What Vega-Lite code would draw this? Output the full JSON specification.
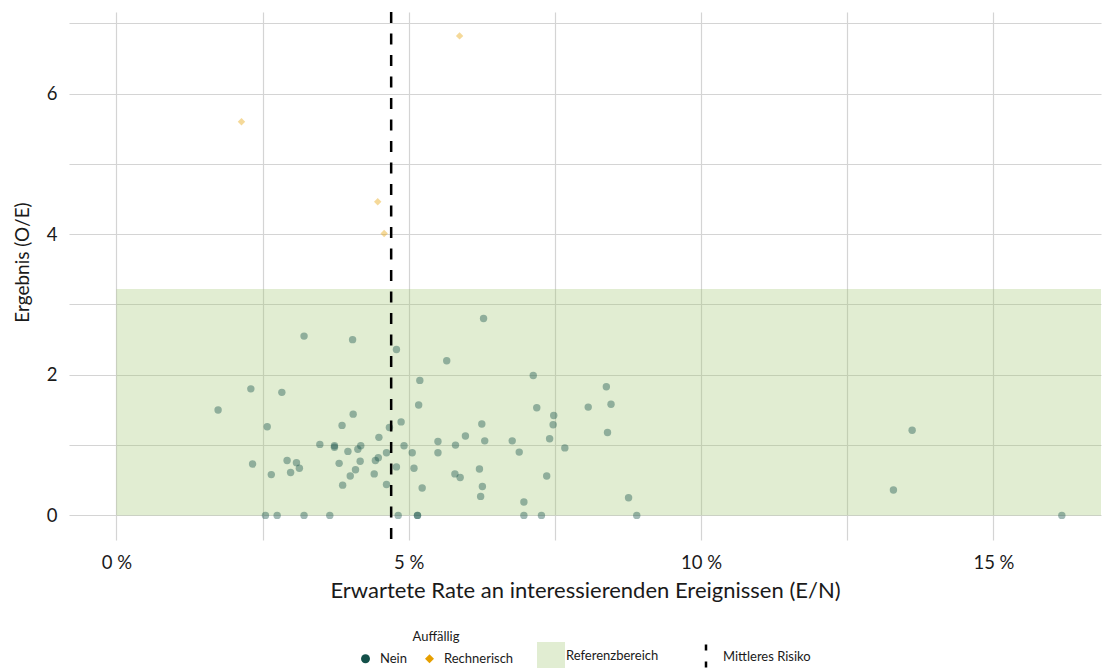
{
  "$schema": "https://vega.github.io/schema/vega-lite/v6.json",
  "width": 1032,
  "height": 528,
  "autosize": {"type": "none"},
  "padding": {"left": 69, "top": 12, "right": 3, "bottom": 128},
  "config": {
    "font": "Lato",
    "view": {"stroke": null},
    "axis": {
      "domain": false,
      "ticks": false,
      "tickSize": 0,
      "gridColor": "#d4d4d4",
      "gridWidth": 1.2,
      "labelFont": "Lato",
      "labelColor": "#1a1a1a",
      "titleColor": "#1a1a1a",
      "titleFont": "Lato",
      "titleFontWeight": "normal"
    },
    "legend": {
      "labelFont": "Lato",
      "titleFont": "Lato",
      "labelFontSize": 13,
      "titleFontSize": 13,
      "titleFontWeight": "normal",
      "labelColor": "#1a1a1a",
      "titleColor": "#1a1a1a"
    }
  },
  "datasets": {
    "punkte": [
      {"rate": 3.21, "oe": 2.55, "auff": "Nein"},
      {"rate": 4.04, "oe": 2.50, "auff": "Nein"},
      {"rate": 4.79, "oe": 2.36, "auff": "Nein"},
      {"rate": 5.65, "oe": 2.20, "auff": "Nein"},
      {"rate": 5.19, "oe": 1.92, "auff": "Nein"},
      {"rate": 2.30, "oe": 1.80, "auff": "Nein"},
      {"rate": 2.83, "oe": 1.75, "auff": "Nein"},
      {"rate": 1.74, "oe": 1.50, "auff": "Nein"},
      {"rate": 5.17, "oe": 1.57, "auff": "Nein"},
      {"rate": 4.05, "oe": 1.44, "auff": "Nein"},
      {"rate": 2.58, "oe": 1.26, "auff": "Nein"},
      {"rate": 3.86, "oe": 1.28, "auff": "Nein"},
      {"rate": 4.87, "oe": 1.33, "auff": "Nein"},
      {"rate": 4.67, "oe": 1.25, "auff": "Nein"},
      {"rate": 4.49, "oe": 1.11, "auff": "Nein"},
      {"rate": 3.48, "oe": 1.01, "auff": "Nein"},
      {"rate": 3.73, "oe": 0.99, "auff": "Nein"},
      {"rate": 3.73, "oe": 0.97, "auff": "Nein"},
      {"rate": 4.18, "oe": 0.99, "auff": "Nein"},
      {"rate": 4.13, "oe": 0.94, "auff": "Nein"},
      {"rate": 3.96, "oe": 0.91, "auff": "Nein"},
      {"rate": 4.92, "oe": 0.99, "auff": "Nein"},
      {"rate": 5.50, "oe": 1.05, "auff": "Nein"},
      {"rate": 5.50, "oe": 0.89, "auff": "Nein"},
      {"rate": 5.06, "oe": 0.89, "auff": "Nein"},
      {"rate": 4.62, "oe": 0.89, "auff": "Nein"},
      {"rate": 4.48, "oe": 0.82, "auff": "Nein"},
      {"rate": 4.43, "oe": 0.78, "auff": "Nein"},
      {"rate": 4.17, "oe": 0.77, "auff": "Nein"},
      {"rate": 3.81, "oe": 0.74, "auff": "Nein"},
      {"rate": 2.92, "oe": 0.78, "auff": "Nein"},
      {"rate": 3.08, "oe": 0.75, "auff": "Nein"},
      {"rate": 3.13, "oe": 0.67, "auff": "Nein"},
      {"rate": 2.98, "oe": 0.61, "auff": "Nein"},
      {"rate": 2.33, "oe": 0.73, "auff": "Nein"},
      {"rate": 2.65, "oe": 0.58, "auff": "Nein"},
      {"rate": 4.79, "oe": 0.69, "auff": "Nein"},
      {"rate": 5.09, "oe": 0.67, "auff": "Nein"},
      {"rate": 4.09, "oe": 0.65, "auff": "Nein"},
      {"rate": 4.00, "oe": 0.56, "auff": "Nein"},
      {"rate": 4.41, "oe": 0.59, "auff": "Nein"},
      {"rate": 3.87, "oe": 0.43, "auff": "Nein"},
      {"rate": 4.62, "oe": 0.44, "auff": "Nein"},
      {"rate": 5.23, "oe": 0.39, "auff": "Nein"},
      {"rate": 2.55, "oe": 0, "auff": "Nein"},
      {"rate": 2.75, "oe": 0, "auff": "Nein"},
      {"rate": 3.21, "oe": 0, "auff": "Nein"},
      {"rate": 3.65, "oe": 0, "auff": "Nein"},
      {"rate": 4.82, "oe": 0, "auff": "Nein"},
      {"rate": 5.15, "oe": 0, "auff": "Nein"},
      {"rate": 5.15, "oe": 0, "auff": "Nein"},
      {"rate": 6.28, "oe": 2.80, "auff": "Nein"},
      {"rate": 7.13, "oe": 1.99, "auff": "Nein"},
      {"rate": 8.38, "oe": 1.83, "auff": "Nein"},
      {"rate": 8.07, "oe": 1.54, "auff": "Nein"},
      {"rate": 8.46, "oe": 1.58, "auff": "Nein"},
      {"rate": 7.19, "oe": 1.53, "auff": "Nein"},
      {"rate": 7.48, "oe": 1.42, "auff": "Nein"},
      {"rate": 7.47, "oe": 1.29, "auff": "Nein"},
      {"rate": 6.25, "oe": 1.30, "auff": "Nein"},
      {"rate": 8.40, "oe": 1.18, "auff": "Nein"},
      {"rate": 5.97, "oe": 1.13, "auff": "Nein"},
      {"rate": 7.41, "oe": 1.09, "auff": "Nein"},
      {"rate": 6.30, "oe": 1.06, "auff": "Nein"},
      {"rate": 6.77, "oe": 1.06, "auff": "Nein"},
      {"rate": 5.80, "oe": 1.00, "auff": "Nein"},
      {"rate": 7.67, "oe": 0.96, "auff": "Nein"},
      {"rate": 6.89, "oe": 0.90, "auff": "Nein"},
      {"rate": 6.21, "oe": 0.66, "auff": "Nein"},
      {"rate": 5.79, "oe": 0.59, "auff": "Nein"},
      {"rate": 5.88, "oe": 0.54, "auff": "Nein"},
      {"rate": 7.36, "oe": 0.56, "auff": "Nein"},
      {"rate": 6.26, "oe": 0.41, "auff": "Nein"},
      {"rate": 6.23, "oe": 0.27, "auff": "Nein"},
      {"rate": 8.76, "oe": 0.25, "auff": "Nein"},
      {"rate": 6.97, "oe": 0.19, "auff": "Nein"},
      {"rate": 6.97, "oe": 0, "auff": "Nein"},
      {"rate": 7.27, "oe": 0, "auff": "Nein"},
      {"rate": 8.90, "oe": 0, "auff": "Nein"},
      {"rate": 13.61, "oe": 1.21, "auff": "Nein"},
      {"rate": 13.29, "oe": 0.36, "auff": "Nein"},
      {"rate": 16.17, "oe": 0, "auff": "Nein"},
      {"rate": 2.14, "oe": 5.60, "auff": "Rechnerisch"},
      {"rate": 4.47, "oe": 4.46, "auff": "Rechnerisch"},
      {"rate": 4.58, "oe": 4.01, "auff": "Rechnerisch"},
      {"rate": 5.87, "oe": 6.82, "auff": "Rechnerisch"}
    ],
    "referenz": [
      {"x0": 0, "x1": 16.84, "y0": 0, "y1": 3.22, "ref": "Referenzbereich"}
    ],
    "mittel": [
      {"rate": 4.70, "risk": "Mittleres Risiko"}
    ]
  },
  "layer": [
    {
      "data": {"name": "referenz"},
      "mark": {"type": "rect", "opacity": 0.3},
      "encoding": {
        "x": {
          "field": "x0", "type": "quantitative",
          "scale": {"domain": [-0.81, 16.84], "nice": false, "zero": false},
          "axis": {
            "values": [0, 2.5, 5, 7.5, 10, 12.5, 15],
            "labelExpr": "datum.value % 5 === 0 ? datum.value + ' %' : ''",
            "labelFontSize": 18.5,
            "labelPadding": 13,
            "title": "Erwartete Rate an interessierenden Ereignissen (E/N)",
            "titleFontSize": 22,
            "titlePadding": 9
          }
        },
        "x2": {"field": "x1"},
        "y": {
          "field": "y0", "type": "quantitative",
          "scale": {"domain": [-0.35, 7.16], "nice": false, "zero": false},
          "axis": {
            "values": [0, 1, 2, 3, 4, 5, 6, 7],
            "labelExpr": "datum.value % 2 === 0 ? datum.value : ''",
            "labelFontSize": 18.5,
            "labelPadding": 12,
            "title": "Ergebnis (O/E)",
            "titleFontSize": 19,
            "titlePadding": 14,
            "titleY": 250
          }
        },
        "y2": {"field": "y1"},
        "fill": {
          "field": "ref", "type": "nominal",
          "scale": {"domain": ["Referenzbereich"], "range": ["#9bc36b"]},
          "legend": {
            "title": null,
            "orient": "none",
            "legendX": 468,
            "legendY": 630,
            "symbolType": "square",
            "symbolSize": 784,
            "symbolOpacity": 0.3,
            "symbolStrokeWidth": 0,
            "labelOffset": 1
          }
        }
      }
    },
    {
      "data": {"name": "punkte"},
      "mark": {"type": "point", "filled": true, "opacity": 0.4, "size": 55, "strokeWidth": 0},
      "encoding": {
        "x": {"field": "rate", "type": "quantitative"},
        "y": {"field": "oe", "type": "quantitative"},
        "color": {
          "field": "auff", "type": "nominal",
          "scale": {"domain": ["Nein", "Rechnerisch"], "range": ["#135049", "#e69f00"]},
          "legend": {
            "title": "Auffällig",
            "orient": "none",
            "direction": "horizontal",
            "legendX": 290,
            "legendY": 619,
            "titleAnchor": "middle",
            "titlePadding": 8,
            "symbolOpacity": 1,
            "symbolSize": 80,
            "labelOffset": 8,
            "columnPadding": 16,
            "encode": {"symbols": {"update": {"opacity": {"value": 1}, "fillOpacity": {"value": 1}}}}
          }
        },
        "shape": {
          "field": "auff", "type": "nominal",
          "scale": {"domain": ["Nein", "Rechnerisch"], "range": ["circle", "diamond"]}
        }
      }
    },
    {
      "data": {"name": "mittel"},
      "mark": {"type": "rule", "strokeDash": [11, 10.5], "strokeWidth": 2.5},
      "encoding": {
        "x": {"field": "rate", "type": "quantitative"},
        "stroke": {
          "field": "risk", "type": "nominal",
          "scale": {"domain": ["Mittleres Risiko"], "range": ["#000000"]},
          "legend": {
            "title": null,
            "orient": "none",
            "legendX": 623,
            "legendY": 631,
            "symbolType": "M0,-1L0,1",
            "symbolSize": 625,
            "symbolStrokeWidth": 2.5,
            "symbolDash": [6, 11],
            "labelOffset": 3
          }
        }
      }
    }
  ]
}
